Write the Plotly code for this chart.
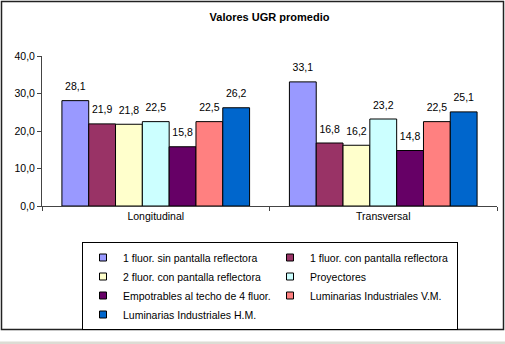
import plotly.graph_objects as go

categories = ["Longitudinal", "Transversal"]
series_names = [
    "1 fluor. sin pantalla reflectora",
    "1 fluor. con pantalla reflectora",
    "2 fluor. con pantalla reflectora",
    "Proyectores",
    "Empotrables al techo de 4 fluor.",
    "Luminarias Industriales V.M.",
    "Luminarias Industriales H.M.",
]
series_values = [
    [28.1, 33.1],
    [21.9, 16.8],
    [21.8, 16.2],
    [22.5, 23.2],
    [15.8, 14.8],
    [22.5, 22.5],
    [26.2, 25.1],
]
colors = ["#9999FF", "#993366", "#FFFFCC", "#CCFFFF", "#660066", "#FF8080", "#0066CC"]
y_ticks = [0, 10, 20, 30, 40]

FONT = "Liberation Sans, Arial, sans-serif"
GAP = 0.175

fig = go.Figure()
for name, vals, col in zip(series_names, series_values, colors):
    fig.add_trace(go.Bar(
        x=categories, y=vals, name=name,
        marker=dict(color=col, line=dict(color="black", width=1)),
        showlegend=False, hoverinfo="x+y+name",
    ))
for name, vals, col in zip(series_names, series_values, colors):
    # value labels, grouped like the bars
    fig.add_trace(go.Scatter(
        x=categories, y=vals, name=name, mode="markers+text",
        marker=dict(size=11, opacity=0), texttemplate="%{y:.1f}", textposition="top center",
        textfont=dict(family=FONT, size=10.5, color="black"), cliponaxis=False,
        showlegend=False, hoverinfo="skip",
    ))
for name, col in zip(series_names, colors):
    # legend entries (small square keys)
    fig.add_trace(go.Scatter(
        x=[None], y=[None], mode="markers", name=name, xaxis="x2", yaxis="y2",
        marker=dict(symbol="square", size=7, color=col, line=dict(color="black", width=1)),
        showlegend=True,
    ))

fig.update_layout(
    width=505, height=344,
    margin=dict(l=42, r=8, t=56, b=138, autoexpand=False),
    paper_bgcolor="white", plot_bgcolor="white",
    separators=",.",
    barmode="group", bargap=GAP, bargroupgap=0,
    scattermode="group", scattergap=GAP,
    font=dict(family=FONT, size=10.5, color="black"),
    title=dict(text="<b>Valores UGR promedio</b>", x=0.5, xref="paper", xanchor="center",
               y=1 - 17 / 344, yanchor="middle", font=dict(family=FONT, size=11, color="black")),
    xaxis=dict(showline=True, linecolor="#444444", linewidth=1, ticks="outside", ticklen=4,
               tickcolor="#444444", tickson="boundaries", showgrid=False, zeroline=False,
               automargin=False, tickfont=dict(family=FONT, size=10.5)),
    yaxis=dict(range=[0, 40], tickvals=y_ticks, tickformat=".1f", showline=True,
               linecolor="#444444", linewidth=1, ticks="outside", ticklen=4, tickcolor="#444444",
               showgrid=False, zeroline=False, automargin=False, tickfont=dict(family=FONT, size=10.5)),
    xaxis2=dict(overlaying="x", visible=False),
    yaxis2=dict(overlaying="y", visible=False),
    legend=dict(orientation="h", xref="container", yref="container",
                x=82 / 505, xanchor="left", y=1 - 242 / 344, yanchor="top",
                bordercolor="black", borderwidth=1, bgcolor="white",
                entrywidth=142, entrywidthmode="pixels",
                font=dict(family=FONT, size=10.5), tracegroupgap=0),
    shapes=[
        dict(type="rect", xref="paper", yref="paper",
             x0=(1.5 - 42) / 455, x1=(503.5 - 42) / 455,
             y0=(206 - 329.5) / 150, y1=(206 - 1.5) / 150,
             line=dict(color="#222222", width=1.5), fillcolor="rgba(0,0,0,0)", layer="below"),
        dict(type="rect", xref="paper", yref="paper",
             x0=(0 - 42) / 455, x1=(505 - 42) / 455,
             y0=(206 - 344) / 150, y1=(206 - 341.5) / 150,
             line=dict(width=0), fillcolor="#DCDCD4", layer="below"),
    ],
)

fig.write_html("out.html")
